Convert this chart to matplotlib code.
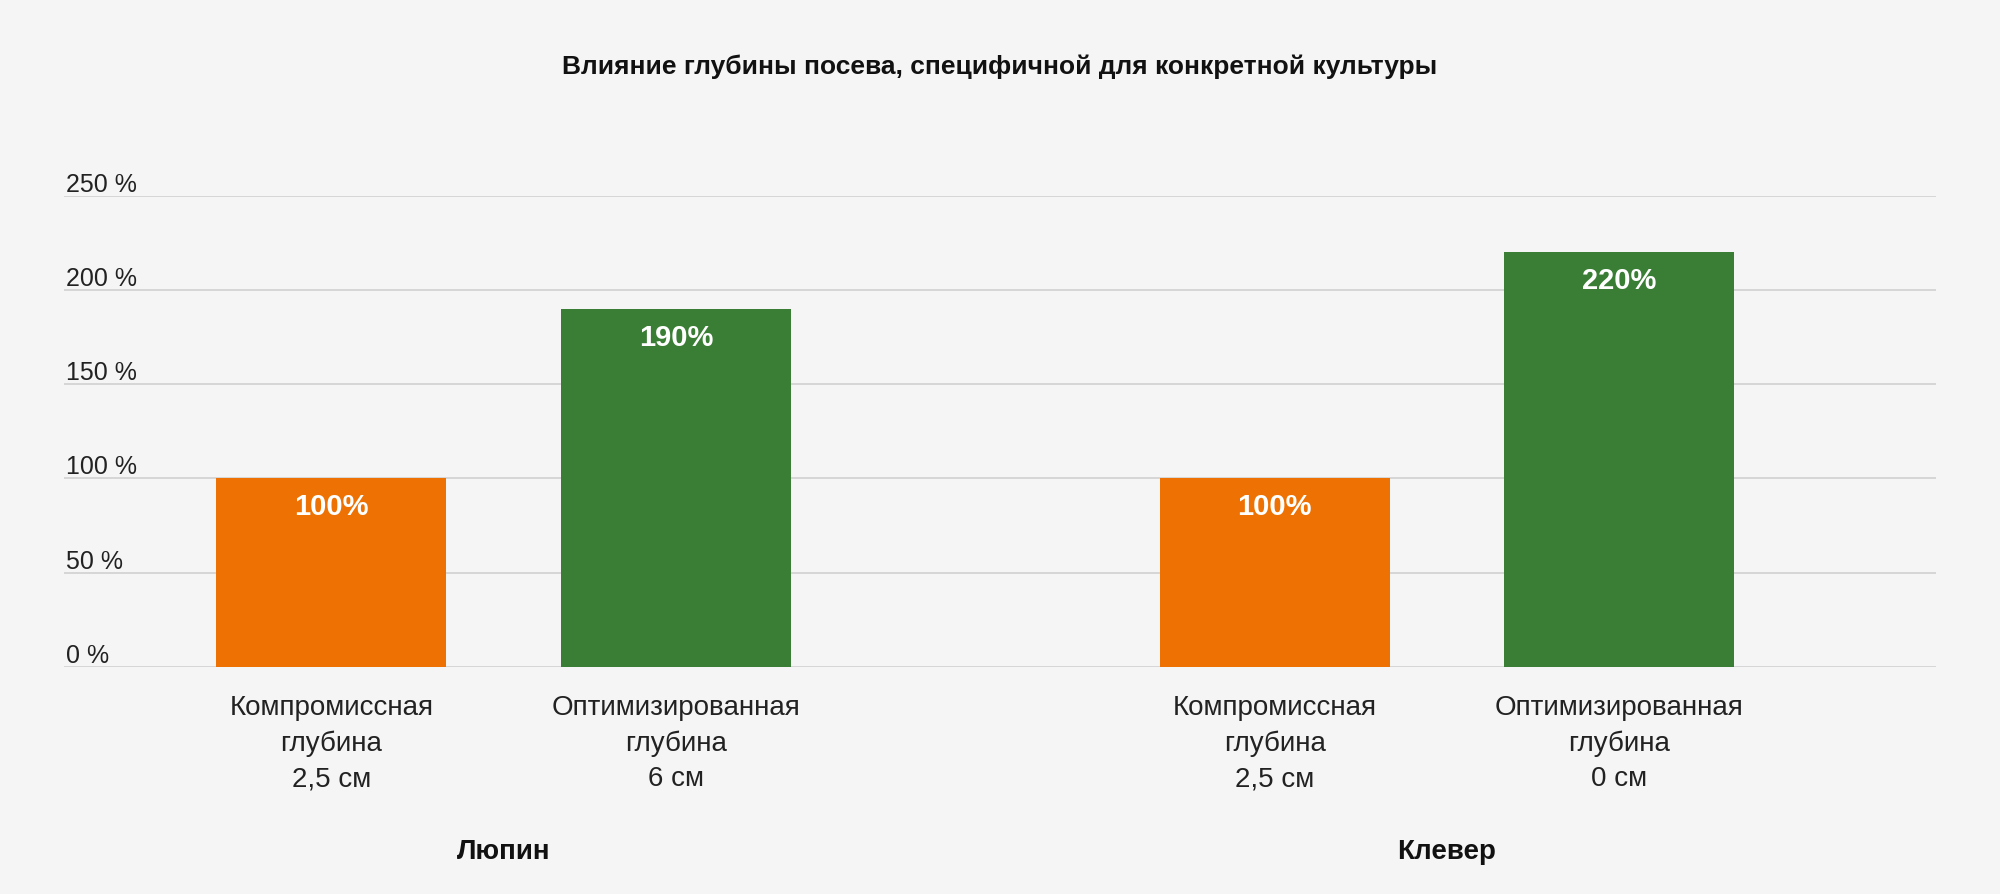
import matplotlib.pyplot as plt
import matplotlib.font_manager as fm

names = {f.name for f in fm.fontManager.ttflist}
FONT = "Liberation Sans Narrow" if "Liberation Sans Narrow" in names else "Liberation Sans"
plt.rcParams["font.family"] = FONT

title = "Влияние глубины посева, специфичной для конкретной культуры"
groups = ["Люпин", "Клевер"]
bar_labels = ["Компромиссная\nглубина\n2,5 см", "Оптимизированная\nглубина\n6 см",
              "Компромиссная\nглубина\n2,5 см", "Оптимизированная\nглубина\n0 см"]
values = [100, 190, 100, 220]
colors = ["#ee7203", "#3a7d35", "#ee7203", "#3a7d35"]
yticks = [0, 50, 100, 150, 200, 250]

bg = "#f5f5f5"
fig = plt.figure(figsize=(20, 8.95), dpi=100)
fig.patch.set_facecolor(bg)
ax = fig.add_axes([0.032, 0.254, 0.936, 0.526])
ax.set_facecolor(bg)

gap = 2.737
xs = [0, 1, gap, gap + 1]
ax.bar(xs, values, width=0.667, color=colors, zorder=3)
ax.set_xlim(-0.776, xs[-1] + 0.919)
ax.set_ylim(0, 250)
for y in yticks:
    ax.axhline(y, color="#d0d0d0", lw=1.2, zorder=1)
    ax.text(0.001, y, f"{y} %", transform=ax.get_yaxis_transform(),
            ha="left", va="bottom", fontsize=18, color="#222222")
ax.set_xticks([])
ax.set_yticks([])
for s in ax.spines.values():
    s.set_visible(False)

for x, v, lab in zip(xs, values, bar_labels):
    ax.annotate(f"{v}%", (x, v), xytext=(0, -10), textcoords="offset points",
                ha="center", va="top", fontsize=21, fontweight="bold", color="white", zorder=4)
    ax.annotate(lab, (x, 0), xytext=(0, -20), textcoords="offset points",
                ha="center", va="top", fontsize=20, color="#222222", linespacing=1.45,
                annotation_clip=False)

for i, g in enumerate(groups):
    cx = (xs[2 * i] + xs[2 * i + 1]) / 2
    ax.annotate(g, (cx, 0), xytext=(0, -133), textcoords="offset points",
                ha="center", va="center", fontsize=20, fontweight="bold", color="#111111",
                annotation_clip=False)

fig.text(0.5, 0.925, title, ha="center", va="center", fontsize=19, fontweight="bold", color="#111111")

plt.savefig("out.png", facecolor=bg)
